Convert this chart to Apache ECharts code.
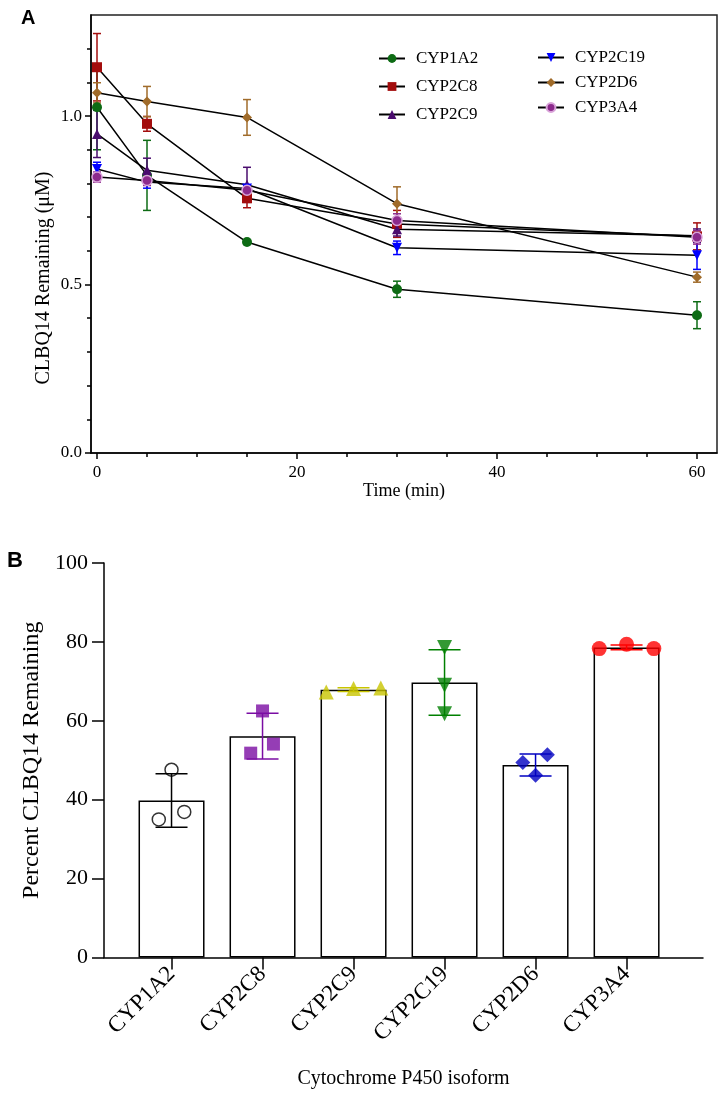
<!DOCTYPE html>
<html><head><meta charset="utf-8">
<script src="https://cdn.jsdelivr.net/npm/echarts@6/dist/echarts.min.js"></script>
<style>html,body{margin:0;padding:0;background:#fff}#c{width:719px;height:1099px}</style>
</head><body><div id="c"></div>
<script>
// ---------- Panel A data ----------
const timesMin = [0, 5, 15, 30, 60];
const isoforms = ['CYP1A2', 'CYP2C8', 'CYP2C9', 'CYP2C19', 'CYP2D6', 'CYP3A4'];
const cyp1a2Mean = [1.026, 0.824, 0.626, 0.486, 0.409];
const cyp1a2Sd   = [0.126, 0.104, 0.006, 0.024, 0.040];
const cyp2c8Mean = [1.145, 0.977, 0.756, 0.680, 0.643];
const cyp2c8Sd   = [0.100, 0.022, 0.028, 0.040, 0.040];
const cyp2c9Mean = [0.947, 0.839, 0.796, 0.664, 0.645];
const cyp2c9Sd   = [0.070, 0.036, 0.052, 0.020, 0.020];
const cyp2c19Mean = [0.843, 0.804, 0.785, 0.609, 0.587];
const cyp2c19Sd   = [0.020, 0.018, 0.010, 0.020, 0.042];
const cyp2d6Mean = [1.069, 1.043, 0.996, 0.740, 0.522];
const cyp2d6Sd   = [0.030, 0.045, 0.053, 0.050, 0.015];
const cyp3a4Mean = [0.819, 0.809, 0.780, 0.690, 0.640];
const cyp3a4Sd   = [0.015, 0.015, 0.010, 0.020, 0.020];
const yTicksA = [0, 0.5, 1.0];
const yMinorA = [0.1, 0.2, 0.3, 0.4, 0.6, 0.7, 0.8, 0.9, 1.1, 1.2];
const xTicksA = [0, 20, 40, 60];
const xMinorA = [5, 10, 15, 25, 30, 35, 45, 50, 55];

// ---------- Panel B data ----------
const categoriesB = ['CYP1A2', 'CYP2C8', 'CYP2C9', 'CYP2C19', 'CYP2D6', 'CYP3A4'];
const percentMean = [39.8, 56.1, 67.9, 69.7, 48.8, 78.6];
const percentSd   = [6.8, 5.8, 0.5, 8.3, 2.8, 0.6];
const repCYP1A2  = [35.0, 47.6, 36.9];
const repCYP2C8  = [51.8, 62.5, 54.1];
const repCYP2C9  = [67.3, 68.2, 68.3];
const repCYP2C19 = [61.8, 69.0, 78.6];
const repCYP2D6  = [49.4, 46.2, 51.4];
const repCYP3A4  = [78.3, 79.4, 78.3];
const yTicksB = [0, 20, 40, 60, 80, 100];

// ---------- styling / layout ----------
const SERIF = 'Liberation Serif';
const meansA = [cyp1a2Mean, cyp2c8Mean, cyp2c9Mean, cyp2c19Mean, cyp2d6Mean, cyp3a4Mean];
const sdsA = [cyp1a2Sd, cyp2c8Sd, cyp2c9Sd, cyp2c19Sd, cyp2d6Sd, cyp3a4Sd];
const DOWN_TRI = 'path://M0,0 L10,0 L5,9 Z';
const colorsA = ['#0d6b14', '#a30d0d', '#4a0c6e', '#0000ff', '#a06b2a', '#8c2a8c'];
const symbolsA = ['circle', 'rect', 'triangle', DOWN_TRI, 'diamond', 'circle'];
const symSizeA = [10, 10, 10, 10, 10, 10];
const repsB = [repCYP1A2, repCYP2C8, repCYP2C9, repCYP2C19, repCYP2D6, repCYP3A4];
const jitterB = [[-0.14, 0, 0.14], [-0.13, 0, 0.12], [-0.30, 0, 0.30], [0, 0, 0], [-0.14, 0, 0.13], [-0.30, 0, 0.30]];
const colorsB = ['#000000', '#7a0ca3', '#c8c400', '#008000', '#0000c0', '#ff0000'];
const symbolsB = ['circle', 'rect', 'triangle', DOWN_TRI, 'diamond', 'circle'];
const symSizeB = [13, 13, 15, 15, 15, 15];

function errRenderer(capHalf, color) {
  return function (params, api) {
    const x = api.value(0), m = api.value(1), s = api.value(2);
    const top = api.coord([x, m + s]);
    const bot = api.coord([x, m - s]);
    const style = { stroke: color, lineWidth: 1.5, fill: null };
    return { type: 'group', children: [
      { type: 'line', shape: { x1: top[0], y1: top[1], x2: bot[0], y2: bot[1] }, style },
      { type: 'line', shape: { x1: top[0] - capHalf, y1: top[1], x2: top[0] + capHalf, y2: top[1] }, style },
      { type: 'line', shape: { x1: bot[0] - capHalf, y1: bot[1], x2: bot[0] + capHalf, y2: bot[1] }, style }
    ]};
  };
}

const series = [];
isoforms.forEach((name, i) => {
  series.push({
    name: 'errA-' + name, type: 'custom', xAxisIndex: 0, yAxisIndex: 0, z: 2,
    renderItem: errRenderer(4, colorsA[i]),
    data: timesMin.map((t, j) => [t, meansA[i][j], sdsA[i][j]]),
    encode: { x: 0, y: 1 }, silent: true
  });
});
isoforms.forEach((name, i) => {
  series.push({
    name: name, type: 'line', xAxisIndex: 0, yAxisIndex: 0, z: 3,
    data: timesMin.map((t, j) => [t, meansA[i][j]]),
    symbol: symbolsA[i], symbolSize: symSizeA[i], showAllSymbol: true,
    itemStyle: i === 5 ? { color: colorsA[i], borderColor: '#d9a3d9', borderWidth: 1.5 } : { color: colorsA[i] },
    lineStyle: { color: '#000', width: 1.5 }
  });
});
// Panel B bars
series.push({
  name: 'barsB', type: 'bar', xAxisIndex: 2, yAxisIndex: 2, barWidth: 66, z: 2,
  data: categoriesB.map((c, i) => [i, percentMean[i]]),
  itemStyle: { color: '#fff', borderColor: '#000', borderWidth: 1.5 }
});
categoriesB.forEach((c, i) => {
  series.push({
    name: 'errB-' + c, type: 'custom', xAxisIndex: 2, yAxisIndex: 2, z: 3,
    renderItem: errRenderer(16, colorsB[i]),
    data: [[i, percentMean[i], percentSd[i]]], encode: { x: 0, y: 1 }, silent: true
  });
  series.push({
    name: 'ptsB-' + c, type: 'scatter', xAxisIndex: 2, yAxisIndex: 2, z: 4,
    symbol: symbolsB[i], symbolSize: symSizeB[i],
    data: repsB[i].map((v, k) => [i + jitterB[i][k], v]),
    itemStyle: i === 0 ? { color: 'rgba(0,0,0,0)', borderColor: '#000', borderWidth: 1.5 } : { color: colorsB[i] }
  });
});

const axisLineBlack = { show: true, onZero: false, lineStyle: { color: '#000', width: 1.5 } };
const option = {
  animation: false,
  backgroundColor: '#fff',
  title: [
    { text: 'A', left: 16, top: 3, textStyle: { fontFamily: 'Liberation Sans', fontWeight: 'bold', fontSize: 20, color: '#000' } },
    { text: 'B', left: 2, top: 545, textStyle: { fontFamily: 'Liberation Sans', fontWeight: 'bold', fontSize: 22, color: '#000' } }
  ],
  graphic: [
    { type: 'text', x: 44, y: 278, rotation: Math.PI / 2,
      style: { text: 'CLBQ14 Remaining (μM)', font: '20px "Liberation Serif"', fill: '#000', align: 'center', verticalAlign: 'middle' } }
  ],
  legend: [
    { data: isoforms.slice(0, 3), orient: 'vertical', left: 373, top: 45, itemWidth: 26, itemHeight: 11, itemGap: 11,
      textStyle: { fontFamily: SERIF, fontSize: 17, color: '#000', padding: [0, 0, 0, 6] } },
    { data: isoforms.slice(3), orient: 'vertical', left: 532, top: 44, itemWidth: 26, itemHeight: 11, itemGap: 8,
      textStyle: { fontFamily: SERIF, fontSize: 17, color: '#000', padding: [0, 0, 0, 6] } }
  ],
  grid: [
    { left: 91, top: 15, width: 626, height: 438, show: true, borderColor: '#222', borderWidth: 1.5, backgroundColor: 'transparent' },
    { left: 104, top: 563, width: 599, height: 394.5 }
  ],
  xAxis: [
    { gridIndex: 0, type: 'value', position: 'bottom', min: -0.6, max: 62, axisLine: axisLineBlack,
      axisTick: { show: true, customValues: xTicksA, length: 6, lineStyle: { color: '#000', width: 1.5 } },
      axisLabel: { customValues: xTicksA, margin: 11, fontFamily: SERIF, fontSize: 17, color: '#000' },
      splitLine: { show: false },
      name: 'Time (min)', nameLocation: 'middle', nameGap: 29,
      nameTextStyle: { fontFamily: SERIF, fontSize: 18, color: '#000' } },
    { gridIndex: 0, type: 'value', position: 'bottom', min: -0.6, max: 62, axisLine: { show: false, onZero: false },
      axisTick: { show: true, customValues: xMinorA, length: 4, lineStyle: { color: '#000', width: 1.5 } },
      axisLabel: { show: false }, splitLine: { show: false } },
    { gridIndex: 1, type: 'value', position: 'bottom', min: -0.742, max: 5.84, axisLine: axisLineBlack,
      axisTick: { show: true, customValues: [0, 1, 2, 3, 4, 5], length: 12, lineStyle: { color: '#000', width: 1.5 } },
      axisLabel: { customValues: [0, 1, 2, 3, 4, 5], formatter: v => categoriesB[Math.round(v)], rotate: 45, margin: 13,
        fontFamily: SERIF, fontSize: 23, color: '#000' },
      splitLine: { show: false },
      name: 'Cytochrome P450 isoform', nameLocation: 'middle', nameGap: 111,
      nameTextStyle: { fontFamily: SERIF, fontSize: 20, color: '#000' } }
  ],
  yAxis: [
    { gridIndex: 0, type: 'value', position: 'left', min: 0, max: 1.3, axisLine: axisLineBlack,
      axisTick: { show: true, customValues: yTicksA, length: 6, lineStyle: { color: '#000', width: 1.5 } },
      axisLabel: { customValues: yTicksA, formatter: v => v.toFixed(1), margin: 9, fontFamily: SERIF, fontSize: 17, color: '#000' },
      splitLine: { show: false } },
    { gridIndex: 0, type: 'value', position: 'left', min: 0, max: 1.3, axisLine: { show: false, onZero: false },
      axisTick: { show: true, customValues: yMinorA, length: 4, lineStyle: { color: '#000', width: 1.5 } },
      axisLabel: { show: false }, splitLine: { show: false } },
    { gridIndex: 1, type: 'value', position: 'left', min: 0, max: 100, interval: 20, axisLine: axisLineBlack,
      axisTick: { show: true, customValues: yTicksB, length: 12, lineStyle: { color: '#000', width: 1.5 } },
      axisLabel: { customValues: yTicksB, margin: 16, fontFamily: SERIF, fontSize: 22, color: '#000' },
      splitLine: { show: false },
      name: 'Percent CLBQ14 Remaining', nameLocation: 'middle', nameGap: 31,
      nameTextStyle: { fontFamily: SERIF, fontSize: 24, color: '#000' } }
  ],
  series: series
};
const chart = echarts.init(document.getElementById('c'), null, { renderer: 'canvas' });
chart.setOption(option);
</script></body></html>
